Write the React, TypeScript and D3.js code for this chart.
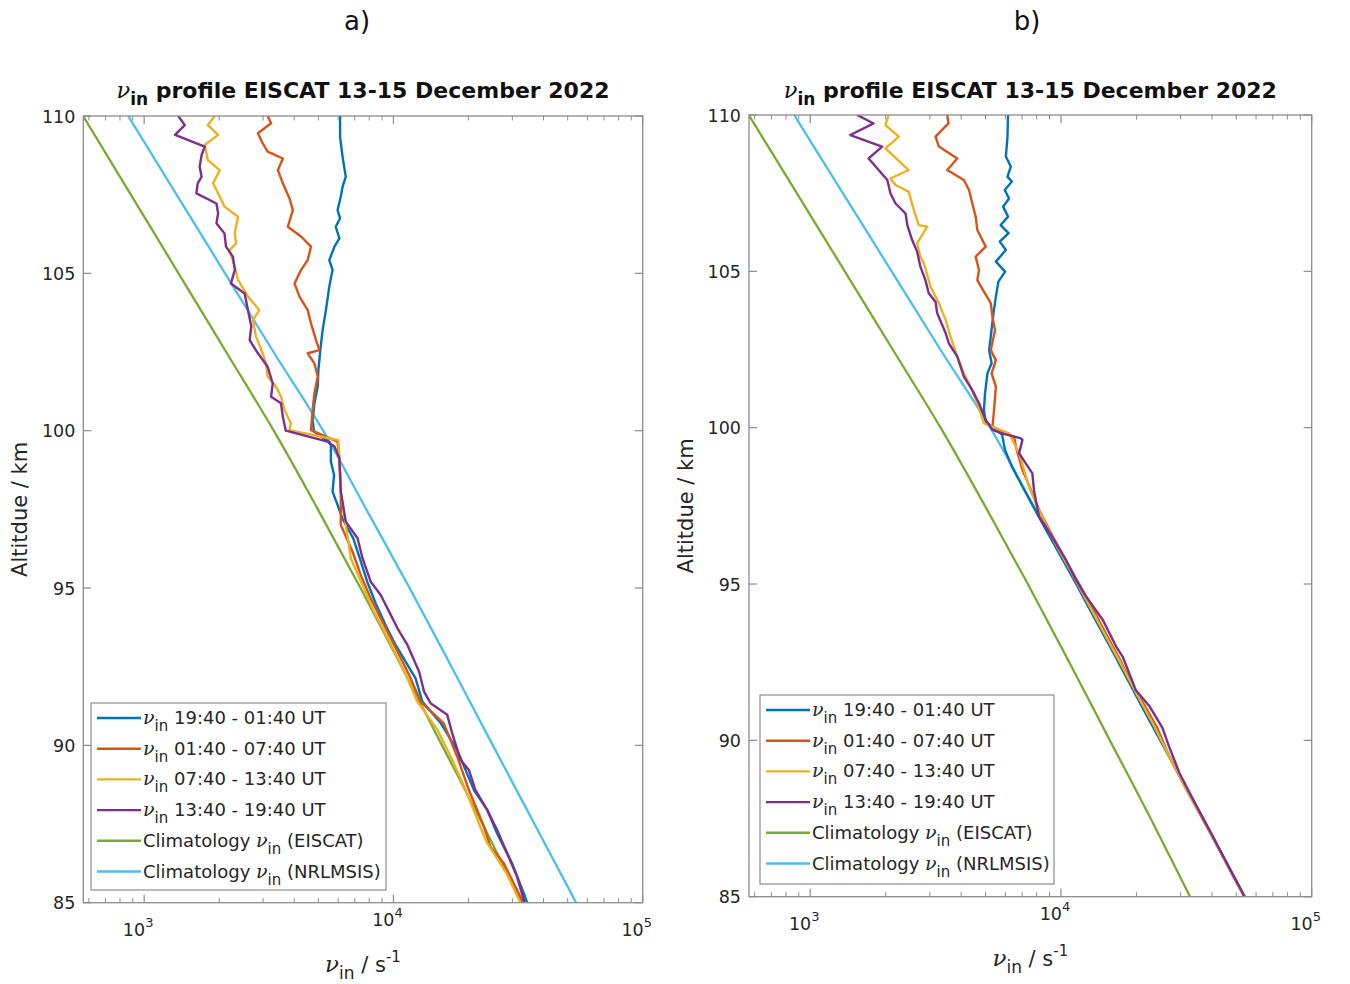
import React from 'react';
import * as d3 from 'd3';

// ---------- data ----------
const ALT_DOMAIN: [number, number] = [85, 110];
const NU_DOMAIN: [number, number] = [570, 100000];
const ALT_TICKS = [85, 90, 95, 100, 105, 110];
const NU_MAJOR_TICKS = [1000, 10000, 100000];
const NU_MAJOR_EXP = ['3', '4', '5'];
const NU_MINOR_TICKS = [600, 700, 800, 900, 2000, 3000, 4000, 5000, 6000, 7000, 8000, 9000,
  20000, 30000, 40000, 50000, 60000, 70000, 80000, 90000];

const TITLE_TEXT = ' profile EISCAT 13-15 December 2022';
const PANEL_LABELS = ['a)', 'b)'];
const Y_LABEL = 'Altitdue / km';
const SERIES_TIMES = ['19:40 - 01:40 UT', '01:40 - 07:40 UT', '07:40 - 13:40 UT', '13:40 - 19:40 UT'];
const CLIM_LABELS = ['(EISCAT)', '(NRLMSIS)'];
const COLORS = ['#0072BD', '#D95319', '#EDB120', '#7E2F8E', '#77AC30', '#4DBEEE'];

// climatology profiles [km] -> nu [s^-1]
const climAlt = [110, 107.5, 105, 102.5, 100, 97.5, 95, 92.5, 90, 87.5, 85];
const climEiscat = [569, 884, 1374, 2133, 3311, 4977, 7379, 10790, 15670, 22800, 32730];
const climNrlmsis = [863, 1349, 2112, 3303, 5224, 7780, 11610, 17100, 25060, 36800, 54080];

type P = [number, number]; // [altitude km, nu s^-1]

// panel a)
const blueA: P[] = [[110, 6110], [109.34, 6110], [108.71, 6250], [108.07, 6440], [107.75, 6250], [107.44, 6150], [107.01, 5970], [106.75, 6110], [106.48, 5870], [106.11, 6070], [105.85, 5800], [105.42, 5530], [105.11, 5700], [104.58, 5530], [103.83, 5360], [103.2, 5200], [102.56, 5090], [101.93, 5000], [101.4, 4970], [100.87, 4820], [100.34, 4740], [99.97, 4800], [99.65, 5500], [99.55, 5610], [99.02, 5610], [98.59, 5780], [98.06, 5700], [97.64, 5970], [97.2, 6250], [96.58, 6900], [95.94, 7330], [95.2, 7850], [94.5, 8500], [93.8, 9330], [93.19, 10200], [92.13, 12270], [91.39, 13060], [90.7, 15500], [89.85, 18030], [88.58, 21040], [87.95, 23770], [87.2, 26060], [86.25, 29920], [85.3, 33340], [85, 34360]];
const orangeA: P[] = [[110, 3130], [109.77, 3230], [109.45, 2860], [109.13, 2990], [108.87, 3130], [108.65, 3600], [108.28, 3440], [107.86, 3600], [107.38, 3830], [107.01, 3950], [106.48, 3770], [106.17, 4260], [105.85, 4670], [105.42, 4530], [105.11, 4260], [104.68, 4010], [104.26, 4200], [103.83, 4530], [103.41, 4670], [102.88, 4890], [102.56, 5050], [102.46, 4530], [102.14, 4820], [101.72, 4970], [101.19, 4820], [100.66, 4740], [100.02, 4670], [99.65, 5970], [99.12, 6070], [98.06, 6150], [97.0, 6150], [96.16, 6850], [95.41, 7400], [94.67, 8110], [93.82, 9180], [92.98, 10380], [92.24, 11560], [91.39, 12860], [90.7, 15920], [89.64, 18030], [88.58, 20090], [87.42, 23070], [86.78, 24490], [86.25, 27730], [85.19, 32280], [85, 33340]];
const yellowA: P[] = [[110, 1920], [109.71, 1800], [109.4, 1980], [109.08, 1750], [108.6, 1800], [108.28, 2010], [107.86, 1890], [107.44, 2010], [107.12, 2100], [106.8, 2380], [106.27, 2310], [105.95, 2340], [105.74, 2200], [105.21, 2310], [104.79, 2380], [104.26, 2610], [103.83, 2900], [103.52, 2730], [102.99, 2810], [102.46, 2990], [102.14, 3080], [101.72, 3130], [101.4, 3380], [101.08, 3540], [100.66, 3660], [100.23, 3880], [100.02, 3830], [99.7, 6010], [99.12, 6070], [98.06, 6150], [97.0, 6440], [95.94, 6750], [94.25, 8360], [93.2, 9800], [92.13, 11380], [91.39, 12470], [90.5, 15000], [89.5, 17300], [88.58, 19500], [87.4, 22340], [86.9, 23770], [85.9, 28580], [85, 32300]];
const purpleA: P[] = [[110, 1370], [109.71, 1455], [109.4, 1330], [109.03, 1750], [108.76, 1700], [108.39, 1670], [108.07, 1700], [107.86, 1640], [107.54, 1620], [107.22, 1950], [106.91, 1980], [106.59, 1950], [106.27, 2100], [105.85, 2130], [105.53, 2270], [105.11, 2310], [104.68, 2230], [104.36, 2530], [103.83, 2610], [103.31, 2690], [102.88, 2650], [102.46, 2860], [102.03, 3130], [101.5, 3280], [101.08, 3230], [100.87, 3540], [100.44, 3600], [100.0, 3700], [99.65, 5450], [99.5, 5800], [99.12, 6070], [98.06, 6150], [97.11, 6440], [96.58, 7180], [95.94, 7520], [95.2, 8110], [94.78, 8890], [94.25, 9610], [93.72, 10380], [93.19, 11380], [92.34, 12680], [91.71, 13270], [91.34, 14090], [90.97, 16440], [90.38, 17220], [89.54, 18580], [89.22, 20080], [88.58, 21330], [87.95, 23770], [87.31, 26060], [86.57, 28580], [85.83, 31330], [85.09, 33340], [85, 33500]];

// panel b)
const blueB: P[] = [[110, 6150], [109.31, 6120], [108.67, 6030], [108.35, 6310], [108.03, 6120], [107.87, 6370], [107.6, 5970], [107.33, 6210], [107.07, 5880], [106.75, 6150], [106.48, 5750], [106.22, 6180], [105.95, 5700], [105.68, 6030], [105.31, 5500], [104.99, 5990], [104.67, 5630], [104.19, 5500], [103.55, 5360], [102.91, 5250], [102.48, 5170], [102.06, 5290], [101.74, 5090], [101.1, 4980], [100.56, 4930], [100.19, 5010], [99.77, 5830], [99.29, 5980], [98.75, 6380], [98, 7150], [97, 8350], [96, 9800], [95, 11500], [94, 13400], [93, 15700], [92, 18300], [91, 21300], [90, 24900], [89, 29100], [88, 34000], [87, 39700], [86, 46200], [85, 53900]];
const orangeB: P[] = [[110, 3520], [109.73, 3560], [109.31, 3160], [108.99, 3260], [108.61, 3860], [108.24, 3520], [107.92, 4100], [107.6, 4300], [107.17, 4430], [106.75, 4570], [106.32, 4640], [105.79, 5010], [105.47, 4570], [105.04, 4710], [104.72, 4640], [104.35, 4930], [103.98, 5250], [103.55, 5330], [103.12, 5460], [102.48, 5250], [102.16, 5500], [101.74, 5290], [101.31, 5500], [100.56, 5410], [100.03, 5330], [99.71, 6500], [99.39, 6610], [98.65, 7020], [97.9, 7690], [97.37, 8180], [96.5, 9300], [95.5, 10900], [94.5, 12800], [93.5, 14900], [92.5, 17400], [91.7, 19500], [91.1, 21600], [90.4, 24200], [89.5, 27000], [88.5, 31300], [87.5, 36600], [86.5, 42800], [85.5, 49800], [85, 53800]];
const yellowB: P[] = [[110, 2055], [109.68, 1995], [109.31, 2255], [108.93, 1995], [108.24, 2470], [107.97, 2090], [107.76, 2190], [107.55, 2470], [106.96, 2590], [106.48, 2710], [106.43, 2930], [105.9, 2670], [105.47, 2750], [105.26, 2840], [104.51, 3020], [103.98, 3260], [103.44, 3470], [102.91, 3630], [102.27, 3860], [101.74, 4100], [101.31, 4360], [100.78, 4640], [100.14, 4930], [99.82, 6210], [99.18, 6810], [98.11, 7460], [97.47, 8050], [96.5, 9200], [95.5, 10800], [94.5, 12600], [93.5, 14700], [92.5, 17200], [91.5, 20000], [90.5, 23400], [89.5, 27000], [88.5, 31400], [87.5, 36700], [86.5, 42900], [85.5, 49900], [85, 54000]];
const purpleB: P[] = [[110, 1540], [109.73, 1790], [109.36, 1445], [108.99, 1935], [108.61, 1710], [107.92, 2030], [107.49, 2090], [107.17, 2190], [106.85, 2400], [106.48, 2440], [106.0, 2550], [105.63, 2670], [105.15, 2750], [104.72, 2880], [104.3, 2970], [104.03, 3160], [103.66, 3210], [103.02, 3470], [102.7, 3570], [102.27, 3860], [101.63, 4100], [101.2, 4430], [100.78, 4710], [100.25, 5010], [99.93, 5330], [99.8, 5900], [99.66, 6920], [99.61, 7020], [99.18, 6810], [98.54, 7690], [97.95, 7820], [97.15, 8180], [96.83, 8710], [95.77, 10470], [95.13, 11480], [94.6, 12590], [93.85, 14690], [93.0, 16600], [92.68, 17620], [91.6, 19900], [91.1, 22500], [90.4, 25400], [89.8, 27000], [88.95, 29700], [88, 34200], [87, 39900], [86, 46400], [85, 54100]];

// ---------- layout ----------
const W = 1350;
const H = 984;
const FONT = "'DejaVu Sans', 'Open Sans', sans-serif";
const NU_FONT = "'DejaVu Serif', serif";
const TEXT = '#262626';
const AXIS = '#8c8c8c';

const PANELS = [
  { left: 83.3, right: 642.7, top: 116, bottom: 902.7, labelX: 357, lg: { x: 91, y: 703, w: 295, h: 187 },
    series: [blueA, orangeA, yellowA, purpleA] },
  { left: 749, right: 1311.7, top: 115, bottom: 896.7, labelX: 1027, lg: { x: 760, y: 695, w: 294, h: 189 },
    series: [blueB, orangeB, yellowB, purpleB] },
];

const zip = (a: number[], b: number[]): P[] => a.map((v, i) => [v, b[i]] as P);

function Nu({ size, subSize, sub = 7, bold = false }: { size: number; subSize: number; sub?: number; bold?: boolean }) {
  return (
    <>
      <tspan fontStyle="italic" fontWeight="normal" fontFamily={NU_FONT} fontSize={size}>ν</tspan>
      <tspan dy={sub} fontSize={subSize} fontWeight={bold ? 'bold' : 'normal'}>in</tspan>
    </>
  );
}

function Panel({ p, idx }: { p: (typeof PANELS)[number]; idx: number }) {
  const x = d3.scaleLog().domain(NU_DOMAIN).range([p.left, p.right]);
  const y = d3.scaleLinear().domain(ALT_DOMAIN).range([p.bottom, p.top]);
  const line = d3.line<P>().x(d => x(d[1])).y(d => y(d[0]));
  const smooth = d3.line<P>().x(d => x(d[1])).y(d => y(d[0])).curve(d3.curveMonotoneY);
  const cx = (p.left + p.right) / 2;
  const cy = (p.top + p.bottom) / 2;
  const clipId = `clip${idx}`;
  const rowH = 30.7;
  const legendEntries = [0, 1, 2, 3, 4, 5];
  return (
    <g fontFamily={FONT} fill={TEXT}>
      <defs>
        <clipPath id={clipId}>
          <rect x={p.left} y={p.top} width={p.right - p.left} height={p.bottom - p.top} />
        </clipPath>
      </defs>
      <text x={p.labelX} y={30} fontSize={26} textAnchor="middle" fill="#111">{PANEL_LABELS[idx]}</text>
      <text x={cx} y={98} textAnchor="middle" fontWeight="bold" fontSize={22} fill="#111">
        <Nu size={22.5} subSize={17} sub={7} bold />
        <tspan dy={-7}>{TITLE_TEXT}</tspan>
      </text>
      <g clipPath={`url(#${clipId})`} fill="none" strokeLinejoin="round">
        <path d={smooth(zip(climAlt, climEiscat)) || ''} stroke={COLORS[4]} strokeWidth={2.3} />
        <path d={smooth(zip(climAlt, climNrlmsis)) || ''} stroke={COLORS[5]} strokeWidth={2.3} />
        {p.series.map((s, i) => (
          <path key={i} d={line(s) || ''} stroke={COLORS[i]} strokeWidth={2.4} />
        ))}
      </g>
      {/* axes box */}
      <rect x={p.left} y={p.top} width={p.right - p.left} height={p.bottom - p.top} fill="none" stroke={AXIS} strokeWidth={1.3} />
      {ALT_TICKS.map(t => (
        <g key={t} stroke={AXIS} strokeWidth={1.2}>
          <line x1={p.left} x2={p.left + 8} y1={y(t)} y2={y(t)} />
          <line x1={p.right} x2={p.right - 8} y1={y(t)} y2={y(t)} />
        </g>
      ))}
      {NU_MAJOR_TICKS.map(t => (
        <g key={t} stroke={AXIS} strokeWidth={1.2}>
          <line x1={x(t)} x2={x(t)} y1={p.bottom} y2={p.bottom - 8} />
          <line x1={x(t)} x2={x(t)} y1={p.top} y2={p.top + 8} />
        </g>
      ))}
      {NU_MINOR_TICKS.map(t => (
        <g key={t} stroke={AXIS} strokeWidth={1}>
          <line x1={x(t)} x2={x(t)} y1={p.bottom} y2={p.bottom - 4.5} />
          <line x1={x(t)} x2={x(t)} y1={p.top} y2={p.top + 4.5} />
        </g>
      ))}
      {ALT_TICKS.map(t => (
        <text key={t} x={p.left - 8} y={y(t) + 6.5} fontSize={17.5} textAnchor="end">{t}</text>
      ))}
      {NU_MAJOR_TICKS.map((t, i) => (
        <text key={t} x={x(t) - 6} y={p.bottom + (i === 1 ? 23 : 33)} fontSize={17.5} textAnchor="middle">
          10<tspan dy={-9} fontSize={13}>{NU_MAJOR_EXP[i]}</tspan>
        </text>
      ))}
      <text x={cx} y={p.bottom + 69} fontSize={21} textAnchor="middle">
        <Nu size={23} subSize={17} sub={7} />
        <tspan dy={-7}> / s</tspan>
        <tspan dy={-10} fontSize={15}>-1</tspan>
      </text>
      <text transform={`translate(${p.left - 63},${cy}) rotate(-90)`} fontSize={21} textAnchor="middle" dy={7}>{Y_LABEL}</text>
      {/* legend */}
      <rect x={p.lg.x} y={p.lg.y} width={p.lg.w} height={p.lg.h} fill="#fff" stroke={AXIS} strokeWidth={1.2} />
      {legendEntries.map(i => {
        const ry = p.lg.y + 15 + i * rowH;
        return (
          <g key={i}>
            <line x1={p.lg.x + 6} x2={p.lg.x + 50} y1={ry} y2={ry} stroke={COLORS[i]} strokeWidth={2.4} />
            <text x={p.lg.x + 52} y={ry + 6} fontSize={18}>
              {i < 4 ? (
                <>
                  <Nu size={19} subSize={15} sub={7} />
                  <tspan dy={-7}>{' ' + SERIES_TIMES[i]}</tspan>
                </>
              ) : (
                <>
                  <tspan>Climatology </tspan>
                  <Nu size={19} subSize={15} sub={7} />
                  <tspan dy={-7}>{' ' + CLIM_LABELS[i - 4]}</tspan>
                </>
              )}
            </text>
          </g>
        );
      })}
    </g>
  );
}

export default function App() {
  return (
    <svg width={W} height={H} style={{ display: 'block', position: 'absolute', left: 0, top: 0, background: '#fff' }}>
      <rect x={0} y={0} width={W} height={H} fill="#fff" />
      {PANELS.map((p, i) => <Panel key={i} p={p} idx={i} />)}
    </svg>
  );
}
